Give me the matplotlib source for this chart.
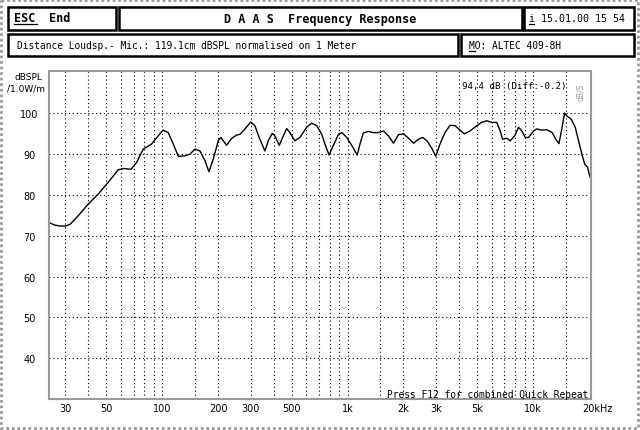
'''
    DAAS frequency response screen (ALTEC 409-8H)
'''
import matplotlib
matplotlib.use('Agg')
import matplotlib.pyplot as plt
from matplotlib.patches import Rectangle

freq = [24.5, 26, 28, 30, 31.8, 35.2, 39.9, 45.1, 51.1, 57.9, 62, 67.8, 72.8, 79,
        87.6, 95.1, 101, 107.7, 114.7, 122, 132.6, 141, 150, 159.8, 170, 178.6,
        188.5, 200.6, 207, 222.5, 237, 252, 263, 279.5, 300, 316, 336, 358, 373,
        392, 405, 428, 450, 469, 488, 519, 553, 601, 640, 681, 725, 754, 794, 836,
        893, 932, 990, 1054, 1127, 1166, 1215, 1293, 1376, 1465, 1560, 1660, 1767,
        1881, 2003, 2132, 2270, 2416, 2540, 2680, 2850, 2990, 3150, 3350, 3570,
        3800, 4040, 4260, 4570, 4980, 5280, 5630, 5990, 6380, 6650, 6850, 7230,
        7540, 7960, 8360, 8720, 9080, 9460, 10070, 10500, 11130, 11850, 12700,
        13250, 13800, 14300, 14800, 15200, 16060, 16900, 17600, 18400, 19000,
        19700, 20100, 20500]
spl = [73.3, 72.7, 72.4, 72.4, 72.8, 74.9, 77.8, 80.2, 83.1, 86.2, 86.5, 86.3, 88.0,
       91.25, 92.5, 94.5, 95.9, 95.3, 92.5, 89.5, 89.6, 90.0, 91.25, 90.8, 88.4,
       85.7, 88.8, 93.3, 94.1, 92.2, 93.9, 94.7, 94.9, 96.2, 97.9, 97.0, 93.7, 90.8,
       93.3, 95.1, 94.5, 92.2, 94.5, 96.3, 95.3, 93.3, 94.1, 96.6, 97.6, 97.0, 94.9,
       92.5, 89.8, 92.1, 94.9, 95.3, 94.1, 92.1, 89.8, 92.5, 95.2, 95.6, 95.3, 95.3,
       95.7, 94.5, 92.7, 94.8, 95.0, 93.9, 92.7, 93.7, 94.1, 93.3, 91.4, 89.5, 92.5,
       95.3, 97.1, 97.0, 95.9, 95.0, 95.7, 97.0, 97.8, 98.2, 97.8, 97.8, 95.7, 93.7,
       93.9, 93.3, 94.5, 96.6, 95.7, 94.1, 94.1, 95.7, 96.2, 95.9, 96.0, 95.3, 93.7,
       92.6, 96.2, 100.1, 99.4, 98.6, 96.6, 93.3, 89.8, 87.6, 86.8, 85.1, 84.0]

xtick_vals = [30, 50, 100, 200, 300, 500, 1000, 2000, 3000, 5000, 10000]
xtick_labels = ['30', '50', '100', '200', '300', '500', '1k', '2k', '3k', '5k', '10k']
xgrid = ([30, 40, 50, 60, 70, 80, 90, 100, 150] + list(range(200, 1001, 100))
         + [1500] + list(range(2000, 10001, 1000)) + [15000])
ytick_vals = [40, 50, 60, 70, 80, 90, 100]

mono = 'DejaVu Sans Mono'

fig = plt.figure(figsize=(6.4, 4.31), dpi=100)

# overlay in pixel coords for the screen frame and header boxes
bg = fig.add_axes([0, 0, 1, 1])
bg.set_xlim(0, 640)
bg.set_ylim(431, 0)
bg.axis('off')

bg.add_patch(Rectangle((1, 1), 637, 428, fill=False, ec='#999999', lw=2, ls=(0, (1, 1))))
boxes = [(8, 7.5, 108, 23), (118.5, 7.5, 403, 23), (523.5, 7.5, 110, 23),
         (8, 35, 450, 22), (460.5, 35, 173.5, 22)]
for (x, y, w, h) in boxes:
    bg.add_patch(Rectangle((x, y), w, h, fill=False, ec='black', lw=1.8))

bg.text(14, 19, 'ESC', fontsize=8.5, fontweight='bold', family=mono, va='center')
bg.plot([14, 37], [25, 25], color='black', lw=0.9)
bg.text(49, 19, 'End', fontsize=8.5, fontweight='bold', family=mono, va='center')
bg.text(320, 19.5, 'D A A S  Frequency Response', fontsize=8.5, fontweight='bold',
        family=mono, ha='center', va='center')
bg.text(529, 19, 'i 15.01.00 15 54', fontsize=7.2, family=mono, va='center')
bg.plot([529, 534], [25, 25], color='black', lw=0.9)
bg.text(17, 46, 'Distance Loudsp.- Mic.: 119.1cm dBSPL normalised on 1 Meter',
        fontsize=6.9, family=mono, va='center')
bg.text(469, 46, 'MO: ALTEC 409-8H', fontsize=6.9, family=mono, va='center')
bg.plot([469, 475], [52, 52], color='black', lw=0.9)

bg.text(28, 78, 'dBSPL', fontsize=6.5, ha='center', va='center')
bg.text(26, 89, '/1.0W/m', fontsize=6.5, ha='center', va='center')

# main plot area
ax = fig.add_axes([49 / 640, 1 - 400 / 431, 542 / 640, 328 / 431])
ax.plot(freq, spl, color='black', lw=1)
ax.set_xscale('log')
ax.set_xlim(24.5, 20550)
ax.set_ylim(30, 110.4)

for f in xgrid:
    ax.axvline(f, color='black', lw=0.8, ls=(0, (1, 2.5)), zorder=0)
for v in ytick_vals:
    ax.axhline(v, color='black', lw=0.8, ls=(0, (1, 2.5)), zorder=0)

ax.set_xticks(xtick_vals)
ax.set_xticklabels(xtick_labels)
ax.xaxis.set_minor_locator(plt.NullLocator())
ax.set_yticks(ytick_vals)
ax.set_yticklabels([str(v) for v in ytick_vals])
for lbl in ax.get_yticklabels():
    lbl.set_ha('center')
ax.tick_params(axis='x', length=0, pad=3, labelsize=7)
ax.tick_params(axis='y', length=0, pad=14, labelsize=7)
ax.annotate('20kHz', xy=(20000, 0), xycoords=('data', 'axes fraction'),
            xytext=(-7, -4), textcoords='offset pixels', ha='left', va='top',
            fontsize=7)

for sp in ax.spines.values():
    sp.set_color('#999999')
    sp.set_linewidth(1.5)

ax.text(566, 86, '94,4 dB (Diff:-0.2)', transform=bg.transData, fontsize=6.6,
        family=mono, ha='right', va='center')
ax.text(581, 92, 'dB/S', transform=bg.transData, fontsize=5.5, color='#999999',
        rotation=90, ha='center', va='center')
ax.text(588, 395, 'Press F12 for combined Quick Repeat', transform=bg.transData,
        fontsize=6.9, family=mono, ha='right', va='center')

plt.savefig('out.png', dpi=100)
